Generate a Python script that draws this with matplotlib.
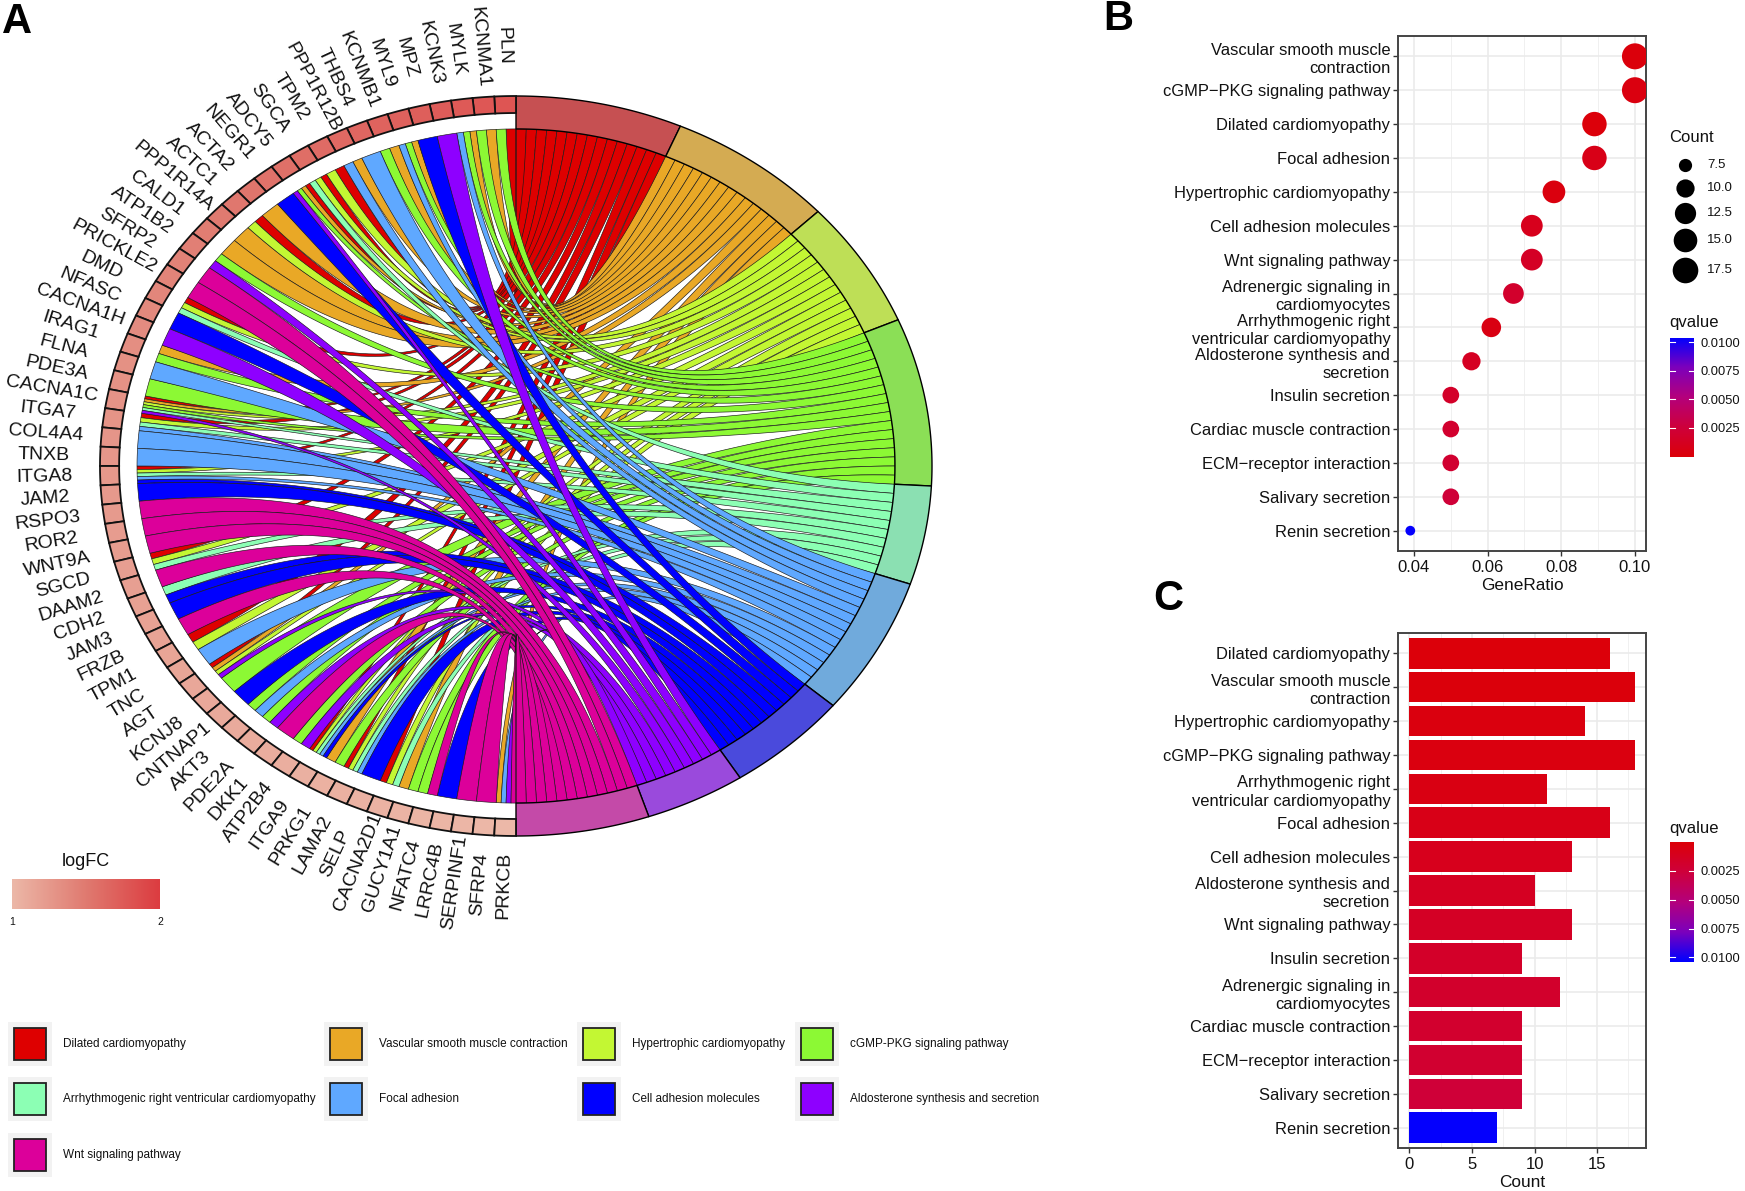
import numpy as np
import matplotlib
matplotlib.use("Agg")
import matplotlib.pyplot as plt
from matplotlib.colors import LinearSegmentedColormap
from matplotlib.patches import Polygon, Rectangle

plt.rcParams['font.family'] = ['Liberation Sans', 'DejaVu Sans']

# ---------- data ----------
term_keys = list("DVHCAFLSW")
term_names = ["Dilated cardiomyopathy", "Vascular smooth muscle contraction", "Hypertrophic cardiomyopathy",
              "cGMP-PKG signaling pathway", "Arrhythmogenic right ventricular cardiomyopathy", "Focal adhesion",
              "Cell adhesion molecules", "Aldosterone synthesis and secretion", "Wnt signaling pathway"]
ribbon_colors = ["#DE0000", "#E9A826", "#C3F733", "#8CF934", "#8CFFB4", "#5FA8FF", "#0000FF", "#8E00FF", "#DC009A"]
ring_colors = ["#C65052", "#D4AB52", "#BEDF56", "#8BDF56", "#8BE0B2", "#70AADC", "#4A4ADC", "#9A4ADC", "#C44AA8"]

genes = ["PLN", "KCNMA1", "MYLK", "KCNK3", "MPZ", "MYL9", "KCNMB1", "THBS4", "PPP1R12B", "TPM2",
         "SGCA", "ADCY5", "NEGR1", "ACTA2", "ACTC1", "PPP1R14A", "CALD1", "ATP1B2", "SFRP2", "PRICKLE2",
         "DMD", "NFASC", "CACNA1H", "IRAG1", "FLNA", "PDE3A", "CACNA1C", "ITGA7", "COL4A4", "TNXB",
         "ITGA8", "JAM2", "RSPO3", "ROR2", "WNT9A", "SGCD", "DAAM2", "CDH2", "JAM3", "FRZB",
         "TPM1", "TNC", "AGT", "KCNJ8", "CNTNAP1", "AKT3", "PDE2A", "DKK1", "ATP2B4", "ITGA9",
         "PRKG1", "LAMA2", "SELP", "CACNA2D1", "GUCY1A1", "NFATC4", "LRRC4B", "SERPINF1", "SFRP4", "PRKCB"]
gene_terms = ["DC", "VC", "VCF", "S", "L", "VCF", "VC", "F", "VF", "DH",
              "DHA", "DVCS", "L", "V", "DH", "V", "V", "CS", "W", "W",
              "DHA", "L", "S", "VC", "F", "C", "DVHCAS", "DHAF", "F", "F",
              "DHAFL", "L", "W", "W", "W", "DHA", "W", "AL", "L", "W",
              "DH", "F", "DVHS", "C", "L", "CF", "CS", "W", "CS", "DHAFL",
              "VC", "DHAF", "L", "DHA", "VC", "CW", "L", "W", "W", "VFSW"]
logfc = [1.80, 1.78, 1.76, 1.74, 1.72, 1.70, 1.68, 1.66, 1.64, 1.62,
         1.60, 1.58, 1.56, 1.54, 1.52, 1.50, 1.48, 1.46, 1.44, 1.42,
         1.40, 1.38, 1.36, 1.34, 1.32, 1.31, 1.30, 1.29, 1.28, 1.27,
         1.26, 1.25, 1.24, 1.23, 1.22, 1.21, 1.20, 1.19, 1.18, 1.17,
         1.16, 1.15, 1.14, 1.13, 1.12, 1.11, 1.10, 1.09, 1.08, 1.07,
         1.06, 1.06, 1.05, 1.05, 1.04, 1.03, 1.03, 1.02, 1.01, 1.00]

dot_labels = ["Vascular smooth muscle\ncontraction", "cGMP\u2212PKG signaling pathway", "Dilated cardiomyopathy",
              "Focal adhesion", "Hypertrophic cardiomyopathy", "Cell adhesion molecules", "Wnt signaling pathway",
              "Adrenergic signaling in\ncardiomyocytes", "Arrhythmogenic right\nventricular cardiomyopathy",
              "Aldosterone synthesis and\nsecretion", "Insulin secretion", "Cardiac muscle contraction",
              "ECM\u2212receptor interaction", "Salivary secretion", "Renin secretion"]
dot_ratio = [0.100, 0.100, 0.089, 0.089, 0.078, 0.072, 0.072, 0.067, 0.061, 0.0556, 0.050, 0.050, 0.050, 0.050, 0.039]
dot_count = [18, 18, 16, 16, 14, 13, 13, 12, 11, 10, 9, 9, 9, 9, 7]
dot_q = [0.0002, 0.0004, 0.0001, 0.0008, 0.0003, 0.0010, 0.0015, 0.0018, 0.0005, 0.0013, 0.0017, 0.0019, 0.0020, 0.0024, 0.0103]

bar_labels = ["Dilated cardiomyopathy", "Vascular smooth muscle\ncontraction", "Hypertrophic cardiomyopathy",
              "cGMP\u2212PKG signaling pathway", "Arrhythmogenic right\nventricular cardiomyopathy", "Focal adhesion",
              "Cell adhesion molecules", "Aldosterone synthesis and\nsecretion", "Wnt signaling pathway",
              "Insulin secretion", "Adrenergic signaling in\ncardiomyocytes", "Cardiac muscle contraction",
              "ECM\u2212receptor interaction", "Salivary secretion", "Renin secretion"]
bar_count = [16, 18, 14, 18, 11, 16, 13, 10, 13, 9, 12, 9, 9, 9, 7]
bar_q = [0.0001, 0.0002, 0.0003, 0.0004, 0.0005, 0.0008, 0.0010, 0.0013, 0.0015, 0.0017, 0.0018, 0.0019, 0.0020, 0.0024, 0.0103]

legend_counts = [7.5, 10.0, 12.5, 15.0, 17.5]
q_ticks = [0.0025, 0.0050, 0.0075, 0.0100]

# ---------- figure ----------
W, H = 1745, 1191
fig = plt.figure(figsize=(W / 100, H / 100), dpi=100, facecolor="white")


def axpx(l, t, r, b, **kw):
    return fig.add_axes([l / W, 1 - b / H, (r - l) / W, (b - t) / H], **kw)


qcmap = LinearSegmentedColormap.from_list("q", ["#DC0008", "#CE003C", "#B4007C", "#7C00BC", "#0000FF"])
QMAX = 0.0104
lfc_cmap = LinearSegmentedColormap.from_list("lfc", ["#ECB8A8", "#E07A70", "#DC3C40"])

# ---------- panel A: chord ----------
CX, CY, RX, RY = 516, 466, 416, 370
ax = axpx(0, 0, 1080, 960)
ax.set_xlim((0 - CX) / RX, (1080 - CX) / RX)
ax.set_ylim((CY - 960) / RY, (CY - 0) / RY)
ax.axis("off")

R_RIB, R_GENE, R_OUT, R_LAB = 0.911, 0.954, 1.0, 1.135
n_genes = len(genes)
gene_step = np.pi / n_genes


def pt(th, r=1.0):
    """th: clockwise from top; negative on the left side"""
    return np.array([r * np.sin(th), r * np.cos(th)])


def arc(a, b, r, n=24):
    t = np.linspace(a, b, n)
    return np.column_stack([r * np.sin(t), r * np.cos(t)])


def bez(p0, p1, n=70):
    t = np.linspace(0, 1, n)[:, None]
    return (1 - t) ** 2 * p0 + t ** 2 * p1


counts = {k: sum(k in g for g in gene_terms) for k in term_keys}
total = sum(counts.values())
term_start = {}
acc = 0.0
for k in term_keys:
    term_start[k] = acc
    acc += np.pi * counts[k] / total

# ribbons: first strip of a term goes to the topmost gene
for ti, k in enumerate(term_keys):
    members = [i for i in range(n_genes) if k in gene_terms[i]]
    step = np.pi * counts[k] / total / counts[k]
    for s, gi in enumerate(members):
        a1 = term_start[k] + s * step
        a2 = a1 + step
        terms = gene_terms[gi]
        pos = terms.index(k)
        w = gene_step / len(terms)
        g_lo = gi * gene_step + pos * w       # ccw from top
        g_hi = g_lo + w
        A1, A2 = pt(a1, R_RIB), pt(a2, R_RIB)
        G_hi, G_lo = pt(-g_hi, R_RIB), pt(-g_lo, R_RIB)
        verts = np.vstack([arc(a1, a2, R_RIB, 6), bez(A2, G_hi), arc(-g_hi, -g_lo, R_RIB, 6), bez(G_lo, A1)])
        ax.add_patch(Polygon(verts, closed=True, facecolor=ribbon_colors[ti], edgecolor="#1a1a1a", linewidth=0.45, zorder=2 + ti))

# term ring
for ti, k in enumerate(term_keys):
    a = term_start[k]
    b = a + np.pi * counts[k] / total
    verts = np.vstack([arc(a, b, R_OUT, 60), arc(b, a, R_RIB, 60)])
    ax.add_patch(Polygon(verts, closed=True, facecolor=ring_colors[ti], edgecolor="black", linewidth=1.0, zorder=20))

# gene ring + labels
for i, g in enumerate(genes):
    a, b = -i * gene_step, -(i + 1) * gene_step
    verts = np.vstack([arc(a, b, R_OUT, 8), arc(b, a, R_GENE, 8)])
    ax.add_patch(Polygon(verts, closed=True, facecolor=lfc_cmap(logfc[i] - 1), edgecolor="#111111", linewidth=1.3, zorder=21))
    th = (i + 0.5) * gene_step
    rot = -np.degrees(np.arctan2(RY * np.cos(th), RX * np.sin(th)))
    ax.text(-R_LAB * np.sin(th), R_LAB * np.cos(th), g, rotation=rot, rotation_mode="anchor",
            ha="center", va="center", fontsize=14, color="#111111", zorder=22)


# ---------- ggplot-like panel ----------
def style_panel(a, labels):
    a.set_facecolor("white")
    a.set_axisbelow(True)
    a.grid(True, which="major", color="#EBEBEB", linewidth=1.2)
    a.grid(True, which="minor", axis="x", color="#F0F0F0", linewidth=0.7)
    n = len(labels)
    a.set_ylim(n + 0.6 - 1, -0.6)
    a.set_yticks(range(n))
    a.set_yticklabels(labels, fontsize=11.9, color="#111111", ha="right", multialignment="right", linespacing=1.27)
    for sp in a.spines.values():
        sp.set_color("#444444")
        sp.set_linewidth(1.4)
    a.tick_params(axis="y", which="major", length=3.5, width=1, color="#333333", pad=2)
    a.tick_params(axis="y", which="minor", length=0)
    a.tick_params(axis="x", which="major", length=3.5, width=1, color="#333333", labelsize=12, pad=3, labelcolor="#111111")
    a.tick_params(axis="x", which="minor", length=0)


# panel B
axb = axpx(1398, 36, 1646, 551)
s_px = [3.25 * (3 + 5 * np.sqrt((c - 7) / 11)) for c in dot_count]
style_panel(axb, dot_labels)
axb.set_xlim(0.03566, 0.1030)
axb.set_xticks([0.04, 0.06, 0.08, 0.10])
axb.set_xticklabels(["0.04", "0.06", "0.08", "0.10"])
axb.set_xticks([0.05, 0.07, 0.09], minor=True)
axb.scatter(dot_ratio, range(len(dot_ratio)), s=[(0.72 * d) ** 2 for d in s_px], c=dot_q,
            cmap=qcmap, vmin=0, vmax=QMAX, linewidths=0, zorder=3, clip_on=True)
axb.set_xlabel("GeneRatio", fontsize=12.4, color="#111111", labelpad=2)

# panel C
axc = axpx(1398, 633, 1646, 1148)
style_panel(axc, bar_labels)
axc.set_xlim(-0.9, 18.9)
axc.set_xticks([0, 5, 10, 15])
axc.set_xticks([2.5, 7.5, 12.5, 17.5], minor=True)
axc.barh(range(len(bar_count)), bar_count, height=0.9, color=[qcmap(q / QMAX) for q in bar_q], linewidth=0, zorder=3)
axc.set_xlabel("Count", fontsize=12.4, color="#111111", labelpad=2)


# colourbars
def colorbar(t, b, flip):
    a = axpx(1670, t, 1694, b)
    g = np.linspace(0, QMAX, 256)[:, None]
    a.imshow(g, cmap=qcmap, vmin=0, vmax=QMAX, aspect="auto", extent=[0, 1, 0, QMAX], origin="lower")
    a.set_xlim(0, 1)
    a.set_ylim((QMAX, 0) if flip else (0, QMAX))
    a.set_xticks([])
    a.yaxis.tick_right()
    a.set_yticks(q_ticks)
    a.set_yticklabels([f"{v:.4f}" for v in q_ticks], fontsize=9.3, color="#111111")
    a.tick_params(axis="y", length=0, pad=5)
    for sp in a.spines.values():
        sp.set_visible(False)
    for v in q_ticks:
        a.plot([0, 0.2], [v, v], color="white", lw=0.8)
        a.plot([0.8, 1], [v, v], color="white", lw=0.8)


colorbar(337.5, 456.6, False)
colorbar(842, 962, True)

# ---------- overlay for legends ----------
ov = axpx(0, 0, W, H)
ov.set_xlim(0, W)
ov.set_ylim(H, 0)
ov.axis("off")
ov.patch.set_alpha(0)

for txt, x, y, fs in [("A", 2, 22, 30), ("B", 1103, 19, 30), ("C", 1153, 599, 30)]:
    ov.text(x, y, txt, fontsize=fs, fontweight="bold", ha="left", va="center", color="black")

ov.text(1669, 138, "Count", fontsize=12, va="center", color="#111111")
for c, y in zip(legend_counts, [164.6, 188, 213, 240, 270]):
    d = 3.25 * (3 + 5 * np.sqrt((c - 7) / 11))
    ov.scatter([1685], [y], s=(0.72 * d) ** 2, color="black", linewidths=0)
    ov.text(1707, y, f"{c:.1f}", fontsize=9.5, va="center", color="#111111")
ov.text(1669, 323, "qvalue", fontsize=12, va="center", color="#111111")
ov.text(1669, 828, "qvalue", fontsize=12, va="center", color="#111111")

# logFC legend
ov.text(86, 861, "logFC", fontsize=13, ha="center", va="center", color="#111111")
grad = np.linspace(0, 1, 256)[None, :]
ax_g = axpx(12, 879, 160, 909)
ax_g.imshow(grad, cmap=lfc_cmap, aspect="auto", vmin=0, vmax=1)
ax_g.axis("off")
ov.text(12, 922, "1", fontsize=7.5, ha="center", va="center", color="#111111")
ov.text(160, 922, "2", fontsize=7.5, ha="center", va="center", color="#111111")

# term legend
col_x = [8, 324, 577, 795]
row_y = [1044, 1099, 1155]
for i, (name, colr) in enumerate(zip(term_names, ribbon_colors)):
    x0 = col_x[i % 4]
    yc = row_y[i // 4]
    ov.add_patch(Rectangle((x0, yc - 22), 44, 44, facecolor="#F2F2F2", edgecolor="none"))
    ov.add_patch(Rectangle((x0 + 6, yc - 16), 32, 32, facecolor=colr, edgecolor="#222222", linewidth=1.3))
    ov.text(x0 + 55, yc, name, fontsize=8.45, ha="left", va="center", color="#111111")

fig.savefig("out.png", dpi=100)
